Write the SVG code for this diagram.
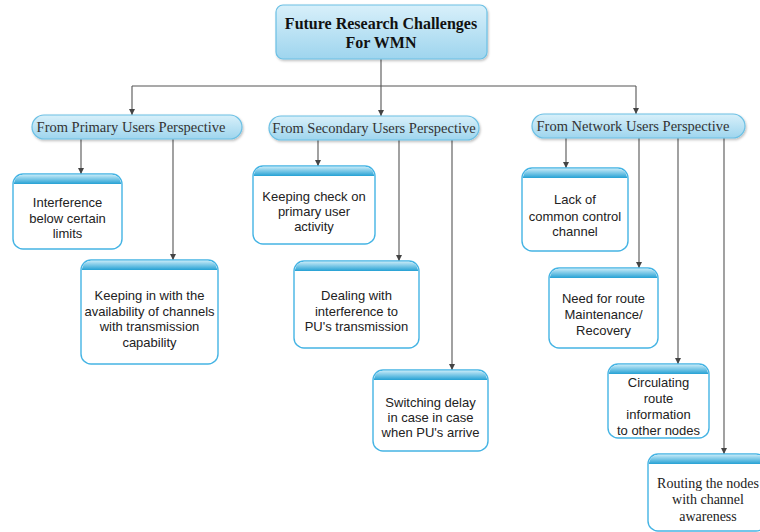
<svg xmlns="http://www.w3.org/2000/svg" width="760" height="532" viewBox="0 0 760 532">
  <style>
    .edge { fill: none; stroke: #555; stroke-width: 1.1; }
    .pill { fill: url(#pillFill); stroke: #6cc0e4; stroke-width: 1.2; filter: url(#shadow); }
    .card { fill: #fff; stroke: #45b4e4; stroke-width: 1.4; }
    .band { fill: url(#bandFill); }
    .title { font-family: "Liberation Serif", "Times New Roman", serif; font-size: 16px; font-weight: bold; fill: #111; text-anchor: middle; }
    .head { font-family: "Liberation Serif", "Times New Roman", serif; font-size: 14.5px; fill: #333; text-anchor: middle; }
    .txt { font-family: "Liberation Sans", Arial, sans-serif; font-size: 13px; fill: #222; text-anchor: middle; }
    .stxt { font-family: "Liberation Serif", "Times New Roman", serif; font-size: 14px; fill: #222; text-anchor: middle; }
  </style>
  <defs>
    <linearGradient id="pillFill" x1="0" y1="0" x2="0" y2="1">
      <stop offset="0" stop-color="#d8f0fa"/>
      <stop offset="1" stop-color="#9ed5ee"/>
    </linearGradient>
    <linearGradient id="bandFill" x1="0" y1="0" x2="0" y2="1">
      <stop offset="0" stop-color="#c4e9f7"/>
      <stop offset="1" stop-color="#25a1d4"/>
    </linearGradient>
    <filter id="shadow" x="-10%" y="-20%" width="120%" height="160%">
      <feDropShadow dx="1" dy="1.5" stdDeviation="1" flood-color="#000" flood-opacity="0.25"/>
    </filter>
    <marker id="arrow" viewBox="0 0 10 10" refX="10" refY="5" markerWidth="6" markerHeight="6" orient="auto" markerUnits="userSpaceOnUse">
      <path d="M0,0 L10,5 L0,10 Z" fill="#444"/>
    </marker>
  </defs>

  <!-- connectors -->
  <g id="connectors">
    <path class="edge" d="M381,59 V86"/>
    <path class="edge" d="M132,86 H636"/>
    <path class="edge" d="M132,86 V115" marker-end="url(#arrow)"/>
    <path class="edge" d="M381,86 V116" marker-end="url(#arrow)"/>
    <path class="edge" d="M636,86 V114" marker-end="url(#arrow)"/>

    <path class="edge" d="M81,139 V174" marker-end="url(#arrow)"/>
    <path class="edge" d="M173,139 V260" marker-end="url(#arrow)"/>

    <path class="edge" d="M318,140 V166" marker-end="url(#arrow)"/>
    <path class="edge" d="M399,140 V261" marker-end="url(#arrow)"/>
    <path class="edge" d="M452,140 V370" marker-end="url(#arrow)"/>

    <path class="edge" d="M566,138 V168" marker-end="url(#arrow)"/>
    <path class="edge" d="M639,138 V268" marker-end="url(#arrow)"/>
    <path class="edge" d="M678,138 V364" marker-end="url(#arrow)"/>
    <path class="edge" d="M724,138 V454" marker-end="url(#arrow)"/>
  </g>

  <!-- root -->
  <g id="root">
    <rect class="pill" x="276" y="5" width="211" height="54" rx="7"/>
    <text class="title" x="381" y="29">Future Research Challenges</text>
    <text class="title" x="381" y="48">For WMN</text>
  </g>

  <!-- perspectives -->
  <g id="primary">
    <rect class="pill" x="32" y="115" width="210" height="24" rx="12"/>
    <text class="head" x="131" y="132">From Primary Users Perspective</text>
  </g>
  <g id="secondary">
    <rect class="pill" x="269" y="116" width="210" height="24" rx="12"/>
    <text class="head" x="374" y="133">From Secondary Users Perspective</text>
  </g>
  <g id="network">
    <rect class="pill" x="532" y="114" width="213" height="24" rx="12"/>
    <text class="head" x="633" y="131">From Network Users Perspective</text>
  </g>

  <!-- primary users challenges -->
  <g id="interference">
    <rect class="card" x="13" y="174" width="109" height="75" rx="10"/>
    <path class="band" d="M13.7,184 A10,10 0 0 1 23,174.7 H112 A10,10 0 0 1 121.3,184 Z"/>
    <text class="txt" x="67.5" y="207">Interference</text>
    <text class="txt" x="67.5" y="223">below certain</text>
    <text class="txt" x="67.5" y="238">limits</text>
  </g>
  <g id="availability">
    <rect class="card" x="81" y="260" width="137" height="104" rx="10"/>
    <path class="band" d="M81.7,270 A10,10 0 0 1 91,260.7 H208 A10,10 0 0 1 217.3,270 Z"/>
    <text class="txt" x="149.5" y="300">Keeping in with the</text>
    <text class="txt" x="149.5" y="316">availability of channels</text>
    <text class="txt" x="149.5" y="331">with transmission</text>
    <text class="txt" x="149.5" y="347">capability</text>
  </g>

  <!-- secondary users challenges -->
  <g id="pu-activity">
    <rect class="card" x="253" y="166" width="122" height="78" rx="10"/>
    <path class="band" d="M253.7,176 A10,10 0 0 1 263,166.7 H365 A10,10 0 0 1 374.3,176 Z"/>
    <text class="txt" x="314" y="201">Keeping check on</text>
    <text class="txt" x="314" y="216">primary user</text>
    <text class="txt" x="314" y="231">activity</text>
  </g>
  <g id="pu-interference">
    <rect class="card" x="294" y="261" width="125" height="87" rx="10"/>
    <path class="band" d="M294.7,271 A10,10 0 0 1 304,261.7 H409 A10,10 0 0 1 418.3,271 Z"/>
    <text class="txt" x="356.5" y="300">Dealing with</text>
    <text class="txt" x="356.5" y="316">interference to</text>
    <text class="txt" x="356.5" y="331">PU's transmission</text>
  </g>
  <g id="switching-delay">
    <rect class="card" x="373" y="370" width="115" height="81" rx="10"/>
    <path class="band" d="M373.7,380 A10,10 0 0 1 383,370.7 H478 A10,10 0 0 1 487.3,380 Z"/>
    <text class="txt" x="430.5" y="407">Switching delay</text>
    <text class="txt" x="430.5" y="422">in case in case</text>
    <text class="txt" x="430.5" y="437">when PU's arrive</text>
  </g>

  <!-- network users challenges -->
  <g id="control-channel">
    <rect class="card" x="522" y="168" width="106" height="83" rx="10"/>
    <path class="band" d="M522.7,178 A10,10 0 0 1 532,168.7 H618 A10,10 0 0 1 627.3,178 Z"/>
    <text class="txt" x="575" y="204">Lack of</text>
    <text class="txt" x="575" y="221">common control</text>
    <text class="txt" x="575" y="236">channel</text>
  </g>
  <g id="route-maintenance">
    <rect class="card" x="549" y="268" width="109" height="80" rx="10"/>
    <path class="band" d="M549.7,278 A10,10 0 0 1 559,268.7 H648 A10,10 0 0 1 657.3,278 Z"/>
    <text class="txt" x="603.5" y="303">Need for route</text>
    <text class="txt" x="603.5" y="319">Maintenance/</text>
    <text class="txt" x="603.5" y="335">Recovery</text>
  </g>
  <g id="route-information">
    <rect class="card" x="608" y="364" width="101" height="74" rx="10"/>
    <path class="band" d="M608.7,374 A10,10 0 0 1 618,364.7 H699 A10,10 0 0 1 708.3,374 Z"/>
    <text class="txt" x="658.5" y="387">Circulating</text>
    <text class="txt" x="658.5" y="403">route</text>
    <text class="txt" x="658.5" y="419">information</text>
    <text class="txt" x="658.5" y="435">to other nodes</text>
  </g>
  <g id="channel-awareness">
    <rect class="card" x="648" y="454" width="118" height="77" rx="10"/>
    <path class="band" d="M648.7,464 A10,10 0 0 1 658,454.7 H756 A10,10 0 0 1 765.3,464 Z"/>
    <text class="stxt" x="708" y="488">Routing the nodes</text>
    <text class="stxt" x="708" y="504">with channel</text>
    <text class="stxt" x="708" y="521">awareness</text>
  </g>
</svg>
